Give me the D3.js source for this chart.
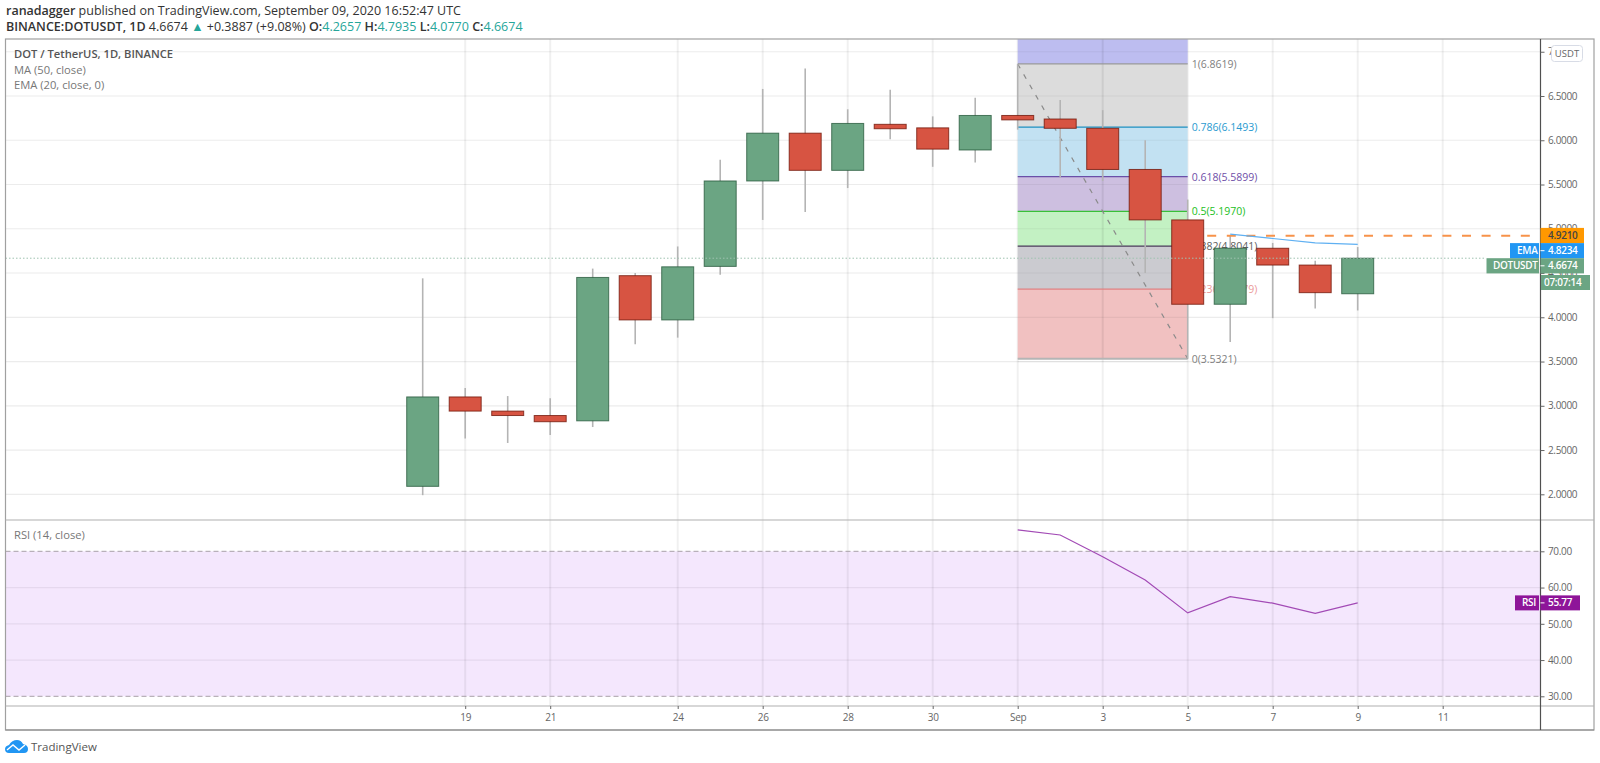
<!DOCTYPE html>
<html>
<head>
<meta charset="utf-8">
<script src="https://cdn.jsdelivr.net/npm/d3@7"></script>
<style>
  html, body { margin: 0; padding: 0; background: #fff; }
  text { font-family: "Open Sans", sans-serif; }
</style>
</head>
<body>
<div id="chart"></div>
<script>
const svgWidth = 1600;
const svgHeight = 763;

// one candle per day, 18 Aug to 9 Sep 2020
const opens  = [2.09, 3.10, 2.94, 2.89, 2.83, 4.47, 3.97, 4.575, 5.54, 6.08, 5.66, 6.18, 6.14, 5.89, 6.28, 6.24, 6.135, 5.67, 5.10, 4.147, 4.78, 4.59, 4.2657];
const highs  = [4.44, 3.20, 3.11, 3.085, 4.55, 4.50, 4.80, 5.78, 6.58, 6.81, 6.35, 6.57, 6.27, 6.48, 6.8619, 6.455, 6.34, 6.00, 5.33, 4.93, 4.84, 4.64, 4.7935];
const lows   = [1.99, 2.63, 2.58, 2.67, 2.76, 3.695, 3.77, 4.48, 5.10, 5.19, 5.46, 6.01, 5.70, 5.75, 6.12, 5.58, 5.54, 4.50, 3.5321, 3.72, 3.99, 4.10, 4.0770];
const closes = [3.10, 2.94, 2.89, 2.82, 4.45, 3.97, 4.57, 5.54, 6.08, 5.66, 6.19, 6.13, 5.90, 6.28, 6.23, 6.135, 5.67, 5.10, 4.147, 4.78, 4.59, 4.278, 4.6674];

// EMA and RSI only show from the 6 Sep / 1 Sep candles, index is the day number
const emaDays = [19, 20, 21, 22];
const emaValues = [4.94, 4.89, 4.84, 4.8234];
const rsiDays = [14, 15, 16, 17, 18, 19, 20, 21, 22];
const rsiValues = [75.9, 74.5, 68.5, 62.1, 53.0, 57.5, 55.7, 52.9, 55.77];

const priceTicks = [2, 2.5, 3, 3.5, 4, 4.5, 5, 5.5, 6, 6.5, 7];
const rsiTicks = [30, 40, 50, 60, 70];
const gridDays = [1, 3, 6, 8, 10, 12, 14, 16, 18, 20, 22, 24];
const gridLabels = ["19", "21", "24", "26", "28", "30", "Sep", "3", "5", "7", "9", "11"];

const fibRatios = ["1", "0.786", "0.618", "0.5", "0.382", "0.236", "0"];
const fibLevels = [6.8619, 6.1493, 5.5899, 5.1970, 4.8041, 4.3179, 3.5321];
const fibLine = ["#9a9a9a", "#1e8fc0", "#6a4fa8", "#38c038", "#4a3a5a", "#e08080", "#b5b5b5"];
const fibText = ["#808080", "#2a9ad0", "#6f4fa8", "#22c022", "#606060", "#eb9a9a", "#808080"];
const fibFill = ["#bdbdf0", "#dcdcdc", "#c2e1f2", "#cdbfe0", "#c3f1c3", "#cbcbd0", "#f1c1c1"];

const headerBold = "ranadagger";
const headerText = " published on TradingView.com, September 09, 2020 16:52:47 UTC";

const x = d3.scaleLinear().domain([0, 24]).range([422.7, 1442.7]);
const y = d3.scaleLinear().domain([2, 6.5]).range([494.3, 96]);
const yRsi = d3.scaleLinear().domain([30, 70]).range([696.3, 551.3]);

const left = 5.5, right = 1540.5, frameRight = 1594;
const top1 = 39, bottom1 = 520, bottom2 = 706, bottom3 = 730;
const up = "#6ba583", upEdge = "#225437";
const down = "#d75442", downEdge = "#6b1003";
const candleWidth = 32;

const svg = d3.select("#chart").append("svg")
  .attr("width", svgWidth)
  .attr("height", svgHeight)
  .style("display", "block");

// header
const head1 = svg.append("text").attr("x", 6).attr("y", 15).attr("font-size", 12.5).attr("fill", "#333");
head1.append("tspan").attr("font-weight", 600).text(headerBold);
head1.append("tspan").text(headerText);

const head2 = svg.append("text").attr("x", 6).attr("y", 31).attr("font-size", 12.5).attr("fill", "#333");
head2.append("tspan").attr("font-weight", 600).text("BINANCE:DOTUSDT, 1D");
head2.append("tspan").text("  4.6674 ");
head2.append("tspan").attr("fill", "#26a69a").text("▲");
head2.append("tspan").text(" +0.3887 (+9.08%) ");
[["O:", "4.2657"], ["H:", "4.7935"], ["L:", "4.0770"], ["C:", "4.6674"]].forEach(function(p) {
  head2.append("tspan").attr("font-weight", 600).text(p[0]);
  head2.append("tspan").attr("fill", "#26a69a").text(p[1] + " ");
});

// panes
const clip = svg.append("defs").append("clipPath").attr("id", "pricePane");
clip.append("rect").attr("x", left).attr("y", top1).attr("width", right - left).attr("height", bottom1 - top1);

// rsi band goes under the grid
svg.append("rect")
  .attr("x", left).attr("y", yRsi(70))
  .attr("width", right - left).attr("height", yRsi(30) - yRsi(70))
  .attr("fill", "#f4e7fd");

// grid
const priceGrid = svg.append("g");
priceTicks.forEach(function(t) {
  priceGrid.append("line")
    .attr("x1", left).attr("x2", right)
    .attr("y1", y(t)).attr("y2", y(t))
    .attr("stroke", "#ececec").attr("stroke-width", 1.2);
});
rsiTicks.slice(1, 4).forEach(function(t) {
  priceGrid.append("line")
    .attr("x1", left).attr("x2", right)
    .attr("y1", yRsi(t)).attr("y2", yRsi(t))
    .attr("stroke", "#e5d8ee").attr("stroke-width", 1.2);
});
gridDays.forEach(function(d) {
  priceGrid.append("line")
    .attr("x1", x(d)).attr("x2", x(d))
    .attr("y1", top1).attr("y2", bottom2)
    .attr("stroke", "#000").attr("stroke-opacity", 0.06).attr("stroke-width", 2);
});

// rsi 70 / 30 dashes
[70, 30].forEach(function(t) {
  svg.append("line")
    .attr("x1", left).attr("x2", right)
    .attr("y1", yRsi(t)).attr("y2", yRsi(t))
    .attr("stroke", "#a8a0a8").attr("stroke-dasharray", "5,3");
});

// fib retracement
const fib = svg.append("g").attr("clip-path", "url(#pricePane)");
const fibEdges = [7.4].concat(fibLevels);
fibFill.forEach(function(c, i) {
  fib.append("rect")
    .attr("x", x(14)).attr("width", x(18) - x(14))
    .attr("y", y(fibEdges[i]))
    .attr("height", y(fibEdges[i + 1]) - y(fibEdges[i]))
    .attr("fill", c);
});
// grid shows through the fill
priceTicks.forEach(function(t) {
  if (t < 3.5) return;
  fib.append("line")
    .attr("x1", x(14)).attr("x2", x(18))
    .attr("y1", y(t)).attr("y2", y(t))
    .attr("stroke", "#000").attr("stroke-opacity", 0.05).attr("stroke-width", 1.2);
});
fib.append("line")
  .attr("x1", x(16)).attr("x2", x(16))
  .attr("y1", top1).attr("y2", y(3.5321))
  .attr("stroke", "#000").attr("stroke-opacity", 0.07).attr("stroke-width", 2);

fibLevels.forEach(function(v, i) {
  fib.append("line")
    .attr("x1", x(14)).attr("x2", x(18))
    .attr("y1", y(v)).attr("y2", y(v))
    .attr("stroke", fibLine[i]).attr("stroke-width", i == 6 ? 2 : 1.2);
  fib.append("text")
    .attr("x", x(18) + 4).attr("y", y(v) + 4)
    .attr("font-size", 10.5)
    .attr("fill", fibText[i])
    .text(fibRatios[i] + "(" + d3.format(".4f")(v) + ")");
});
fib.append("line")
  .attr("x1", x(14)).attr("x2", x(18))
  .attr("y1", y(fibLevels[0])).attr("y2", y(fibLevels[6]))
  .attr("stroke", "#8a8a8a").attr("stroke-width", 1.2).attr("stroke-dasharray", "5,7");

// candles
const candles = svg.append("g");
opens.forEach(function(o, i) {
  const c = closes[i];
  const isUp = c >= o;
  candles.append("line")
    .attr("x1", x(i)).attr("x2", x(i))
    .attr("y1", y(highs[i])).attr("y2", y(lows[i]))
    .attr("stroke", "#b4b4b4").attr("stroke-width", 1.6);
  candles.append("rect")
    .attr("x", x(i) - candleWidth / 2)
    .attr("width", candleWidth)
    .attr("y", y(Math.max(o, c)))
    .attr("height", Math.abs(y(o) - y(c)))
    .attr("fill", isUp ? up : down)
    .attr("stroke", isUp ? upEdge : downEdge)
    .attr("stroke-opacity", 0.75)
    .attr("stroke-width", 1);
});

// last price, pivot and ema
svg.append("line")
  .attr("x1", left).attr("x2", 1486)
  .attr("y1", y(4.6674)).attr("y2", y(4.6674))
  .attr("stroke", "#9fc3b0").attr("stroke-dasharray", "1.5,2");

svg.append("line")
  .attr("x1", x(19) - 23).attr("x2", right)
  .attr("y1", y(4.921)).attr("y2", y(4.921))
  .attr("stroke", "#f7924a").attr("stroke-width", 1.8).attr("stroke-dasharray", "9,10.6");

const emaLine = d3.line().x(function(d) { return x(d[0]); }).y(function(d) { return y(d[1]); });
svg.append("path")
  .attr("d", emaLine(d3.zip(emaDays, emaValues)))
  .attr("fill", "none")
  .attr("stroke", "#5fb0f2").attr("stroke-width", 1.2);

const rsiLine = d3.line().x(function(d) { return x(d[0]); }).y(function(d) { return yRsi(d[1]); });
svg.append("path")
  .attr("d", rsiLine(d3.zip(rsiDays, rsiValues)))
  .attr("fill", "none")
  .attr("stroke", "#a24ab5").attr("stroke-width", 1.2);

// legends
svg.append("text").attr("x", 14).attr("y", 58).attr("font-size", 11.2).attr("font-weight", 600).attr("fill", "#555").text("DOT / TetherUS, 1D, BINANCE");
svg.append("text").attr("x", 14).attr("y", 74).attr("font-size", 11.2).attr("fill", "#777").text("MA (50, close)");
svg.append("text").attr("x", 14).attr("y", 89).attr("font-size", 11.2).attr("fill", "#777").text("EMA (20, close, 0)");
svg.append("text").attr("x", 14).attr("y", 539).attr("font-size", 11.2).attr("fill", "#777").text("RSI (14, close)");

// frames
const frames = svg.append("g").attr("fill", "none");
frames.append("rect")
  .attr("x", left).attr("y", top1)
  .attr("width", frameRight - left).attr("height", bottom3 - top1)
  .attr("stroke", "#a0a0a0").attr("stroke-width", 1.2);
[bottom1, bottom2].forEach(function(v) {
  frames.append("line")
    .attr("x1", left).attr("x2", frameRight)
    .attr("y1", v).attr("y2", v)
    .attr("stroke", "#b0b0b0").attr("stroke-width", 1.2);
});
frames.append("line")
  .attr("x1", left).attr("x2", frameRight)
  .attr("y1", bottom3).attr("y2", bottom3)
  .attr("stroke", "#8a8a8a").attr("stroke-width", 1.2);
frames.append("line")
  .attr("x1", right).attr("x2", right)
  .attr("y1", top1).attr("y2", bottom3)
  .attr("stroke", "#505050").attr("stroke-width", 1.2);

// price axis
function styleAxis(g) {
  g.select(".domain").remove();
  g.selectAll("line").attr("stroke", "#666");
  g.selectAll("text")
    .attr("fill", "#666")
    .attr("font-size", 10)
    .attr("letter-spacing", -0.35)
    .attr("font-family", "Open Sans");
}

svg.append("g").attr("transform", `translate(${right}, 0)`)
  .call(d3.axisRight(y)
    .tickValues(priceTicks)
    .tickSize(4)
    .tickPadding(3.5)
    .tickFormat(d3.format(".4f")))
  .call(styleAxis);

svg.append("g").attr("transform", `translate(${right}, 0)`)
  .call(d3.axisRight(yRsi)
    .tickValues(rsiTicks)
    .tickSize(4)
    .tickPadding(3.5)
    .tickFormat(d3.format(".2f")))
  .call(styleAxis);

// time axis
svg.append("g").attr("transform", `translate(0, ${bottom2})`)
  .call(d3.axisBottom(x)
    .tickValues(gridDays)
    .tickSize(3)
    .tickPadding(5)
    .tickFormat(function(d, i) { return gridLabels[i]; }))
  .call(styleAxis);

// USDT badge
svg.append("rect")
  .attr("x", 1551.5).attr("y", 45.5).attr("width", 31).attr("height", 16).attr("rx", 3)
  .attr("fill", "#fff").attr("stroke", "#d8dce6");
svg.append("text").attr("x", 1567).attr("y", 57).attr("text-anchor", "middle")
  .attr("font-size", 9.5).attr("fill", "#666").text("USDT");

// price labels on the axis, stacked so they don't cover each other
function tag(x0, w, yc, h, fill) {
  svg.append("rect")
    .attr("x", x0).attr("y", yc - h / 2)
    .attr("width", w).attr("height", h)
    .attr("fill", fill);
}
function tagText(x0, yc, txt, fill) {
  svg.append("text")
    .attr("x", x0).attr("y", yc + 3.5)
    .attr("font-size", 10).attr("font-weight", 600)
    .attr("letter-spacing", -0.3)
    .attr("fill", fill).text(txt);
}
const orangeY = 235.5, emaY = 250.7, lastY = 265.8, timerY = 282.5, rsiY = yRsi(55.77);

tag(right, 43.5, orangeY, 15.2, "#ff9800");
tagText(1548, orangeY, "4.9210", "#444");

tag(1510, 29, emaY, 15.2, "#2196f3");
tag(right, 43.5, emaY, 15.2, "#2196f3");
tagText(1517, emaY, "EMA", "#fff");
tagText(1548, emaY, "4.8234", "#fff");

tag(1486.5, 52.5, lastY, 15.2, up);
tag(right, 43.5, lastY, 15.2, up);
tagText(1493, lastY, "DOTUSDT", "#fff");
tagText(1548, lastY, "4.6674", "#fff");

tag(right + 0.5, 49, timerY, 15, up);
tagText(1544, timerY, "07:07:14", "#fff");

tag(1515, 24, rsiY, 15, "#8e1599");
tag(right, 39.5, rsiY, 15, "#8e1599");
tagText(1522, rsiY, "RSI", "#fff");
tagText(1548, rsiY, "55.77", "#fff");

[emaY, lastY, rsiY].forEach(function(v) {
  svg.append("line").attr("x1", right).attr("x2", right + 4).attr("y1", v).attr("y2", v).attr("stroke", "#fff");
});

// logo
svg.append("path")
  .attr("d", "M5 749 Q5 746 9 745 Q12 740 17 740 Q21 740 23 744 Q28 745 28 749 Q28 753 24 753 L9 753 Q5 753 5 749 Z")
  .attr("fill", "#2196f3");
svg.append("path")
  .attr("d", "M7 750 L13 745 L19 750 L25 745")
  .attr("fill", "none").attr("stroke", "#fff").attr("stroke-width", 1.4);
svg.append("text").attr("x", 31).attr("y", 751).attr("font-size", 11.5).attr("fill", "#555").text("TradingView");
</script>
</body>
</html>
